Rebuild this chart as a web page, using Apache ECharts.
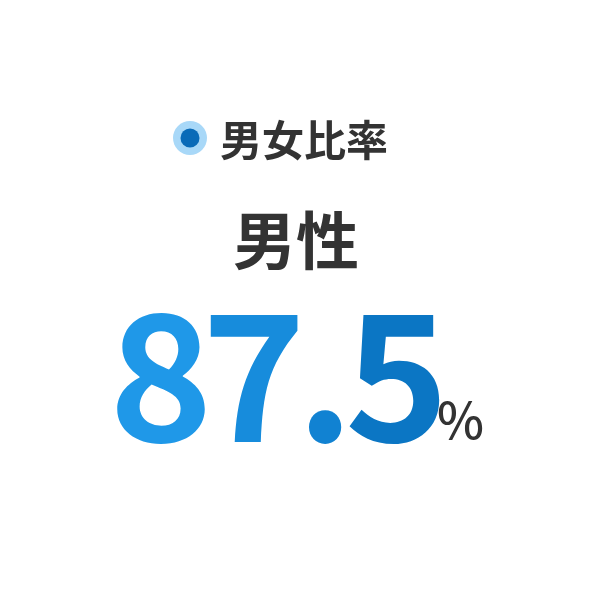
<!DOCTYPE html>
<html>
<head>
<meta charset="utf-8">
<script src="https://cdn.jsdelivr.net/npm/echarts@6/dist/echarts.min.js"></script>
<style>
html,body{margin:0;padding:0;background:#fff;}
#main{width:592px;height:592px;}
</style>
</head>
<body>
<div id="main"></div>
<script>
const titleText = '男女比率';
const categoryLabel = '男性';
const ratioValue = 87.5;
const unitText = '%';
// colours sampled left to right across the big number (gradient look)
const charColors = ['#1f98e8', '#178cdc', '#1182d2', '#0b76c4'];

const chart = echarts.init(document.getElementById('main'), null, {renderer: 'canvas'});
const cjk = '"Noto Sans CJK JP", "Noto Sans CJK SC", sans-serif';

const valueChars = ratioValue.toFixed(1).split('');
const charWidths = [92, 94, 48, 96];
const rich = {};
let richText = '';
valueChars.forEach((ch, i) => {
  const key = 'c' + i;
  rich[key] = {
    fontFamily: cjk,
    fontWeight: 'bold',
    fontSize: 176,
    lineHeight: 176,
    width: charWidths[i],
    align: 'center',
    fill: charColors[Math.min(i, charColors.length - 1)]
  };
  richText += '{' + key + '|' + ch + '}';
});

const option = {
  backgroundColor: '#ffffff',
  graphic: [
    {
      type: 'circle',
      shape: {cx: 190, cy: 138, r: 17},
      style: {fill: '#a8d8f8'}
    },
    {
      type: 'circle',
      shape: {cx: 190, cy: 138, r: 9.5},
      style: {fill: '#0a6bb8'}
    },
    {
      type: 'text',
      x: 220, y: 140,
      style: {
        text: titleText,
        font: 'bold 42px ' + cjk,
        fill: '#333333',
        textAlign: 'left',
        textVerticalAlign: 'middle'
      }
    },
    {
      type: 'text',
      x: 296, y: 240,
      style: {
        text: categoryLabel,
        font: 'bold 63px ' + cjk,
        fill: '#333333',
        textAlign: 'center',
        textVerticalAlign: 'middle'
      }
    },
    {
      type: 'text',
      x: 115, y: 375,
      style: {
        text: richText,
        rich: rich,
        textAlign: 'left',
        textVerticalAlign: 'middle'
      }
    },
    {
      type: 'text',
      x: 437, y: 420,
      style: {
        text: unitText,
        font: '500 50px ' + cjk,
        fill: '#333333',
        textAlign: 'left',
        textVerticalAlign: 'middle'
      }
    }
  ]
};
chart.setOption(option);
</script>
</body>
</html>
